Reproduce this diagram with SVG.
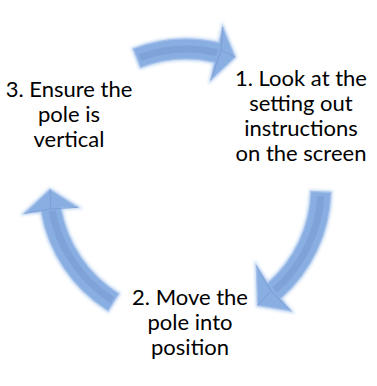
<svg xmlns="http://www.w3.org/2000/svg" width="377" height="386" viewBox="0 0 377 386">
  <defs>
    <filter id="glow" x="-20%" y="-20%" width="140%" height="140%">
      <feGaussianBlur stdDeviation="1.5"/>
    </filter>
    <style>
      .glow { fill: none; stroke: #BCD3F1; stroke-width: 3.5; filter: url(#glow); }
      .arrow { fill: #89AEE1; stroke: #A6C2EB; stroke-width: 1.2; stroke-linejoin: miter; }
      .band { fill: none; stroke: #7698CF; stroke-width: 7; opacity: 0.5; }
      .ridge { fill: none; stroke: #7395CD; stroke-width: 1; opacity: 0.65; }
      .label { font-family: Lato, "Open Sans", "Liberation Sans", sans-serif; font-size: 22px; fill: #000000; text-anchor: middle; }
    </style>
  </defs>
  <rect width="377" height="386" fill="#FFFFFF"/>

  <g id="connectors">
    <g id="arrow-3-to-1">
      <path class="glow" d="M133.3,48.8 A147,147 0 0 1 219.1,42.8 L222.7,27.2 L235.1,57.1 L211.0,79.8 L214.6,62.3 A127,127 0 0 0 140.5,67.4 Z"/>
      <path class="arrow" d="M133.3,48.8 A147,147 0 0 1 219.1,42.8 L222.7,27.2 L235.1,57.1 L211.0,79.8 L214.6,62.3 A127,127 0 0 0 140.5,67.4 Z"/>
      <path class="band" d="M140,57.5 A137,137 0 0 1 217,52.5"/>
      <path class="ridge" d="M222.7,27.2 L221,50 L235.1,57.1 M211.0,79.8 L221,50"/>
    </g>
    <g id="arrow-1-to-2">
      <path class="glow" d="M330.9,192.4 A147,147 0 0 1 280.5,298.6 L290.8,310.9 L257.6,305.4 L256.4,266.0 L267.6,283.3 A127,127 0 0 0 310.9,191.5 Z"/>
      <path class="arrow" d="M330.9,192.4 A147,147 0 0 1 280.5,298.6 L290.8,310.9 L257.6,305.4 L256.4,266.0 L267.6,283.3 A127,127 0 0 0 310.9,191.5 Z"/>
      <path class="band" d="M320.9,196 A137,137 0 0 1 275,290"/>
      <path class="ridge" d="M290.8,310.9 L271,291 L257.6,305.4 M256.4,266.0 L271,291"/>
    </g>
    <g id="arrow-2-to-3">
      <path class="glow" d="M108.1,310.7 A147,147 0 0 1 41.2,211.5 L24.5,213.3 L50.0,189.4 L77.7,207.3 L60.9,208.0 A127,127 0 0 0 118.7,293.7 Z"/>
      <path class="arrow" d="M108.1,310.7 A147,147 0 0 1 41.2,211.5 L24.5,213.3 L50.0,189.4 L77.7,207.3 L60.9,208.0 A127,127 0 0 0 118.7,293.7 Z"/>
      <path class="band" d="M112,300 A137,137 0 0 1 52,211"/>
      <path class="ridge" d="M24.5,213.3 L51,209 L50.0,189.4 M77.7,207.3 L51,209"/>
    </g>
  </g>

  <g id="node-1">
    <text class="label" x="301" y="86">1. Look at the</text>
    <text class="label" x="301" y="111">setting out</text>
    <text class="label" x="301" y="136">instructions</text>
    <text class="label" x="301" y="161">on the screen</text>
  </g>
  <g id="node-2">
    <text class="label" x="190" y="305">2. Move the</text>
    <text class="label" x="190" y="330">pole into</text>
    <text class="label" x="190" y="355">position</text>
  </g>
  <g id="node-3">
    <text class="label" x="69" y="97">3. Ensure the</text>
    <text class="label" x="69" y="122">pole is</text>
    <text class="label" x="69" y="147">vertical</text>
  </g>
</svg>
